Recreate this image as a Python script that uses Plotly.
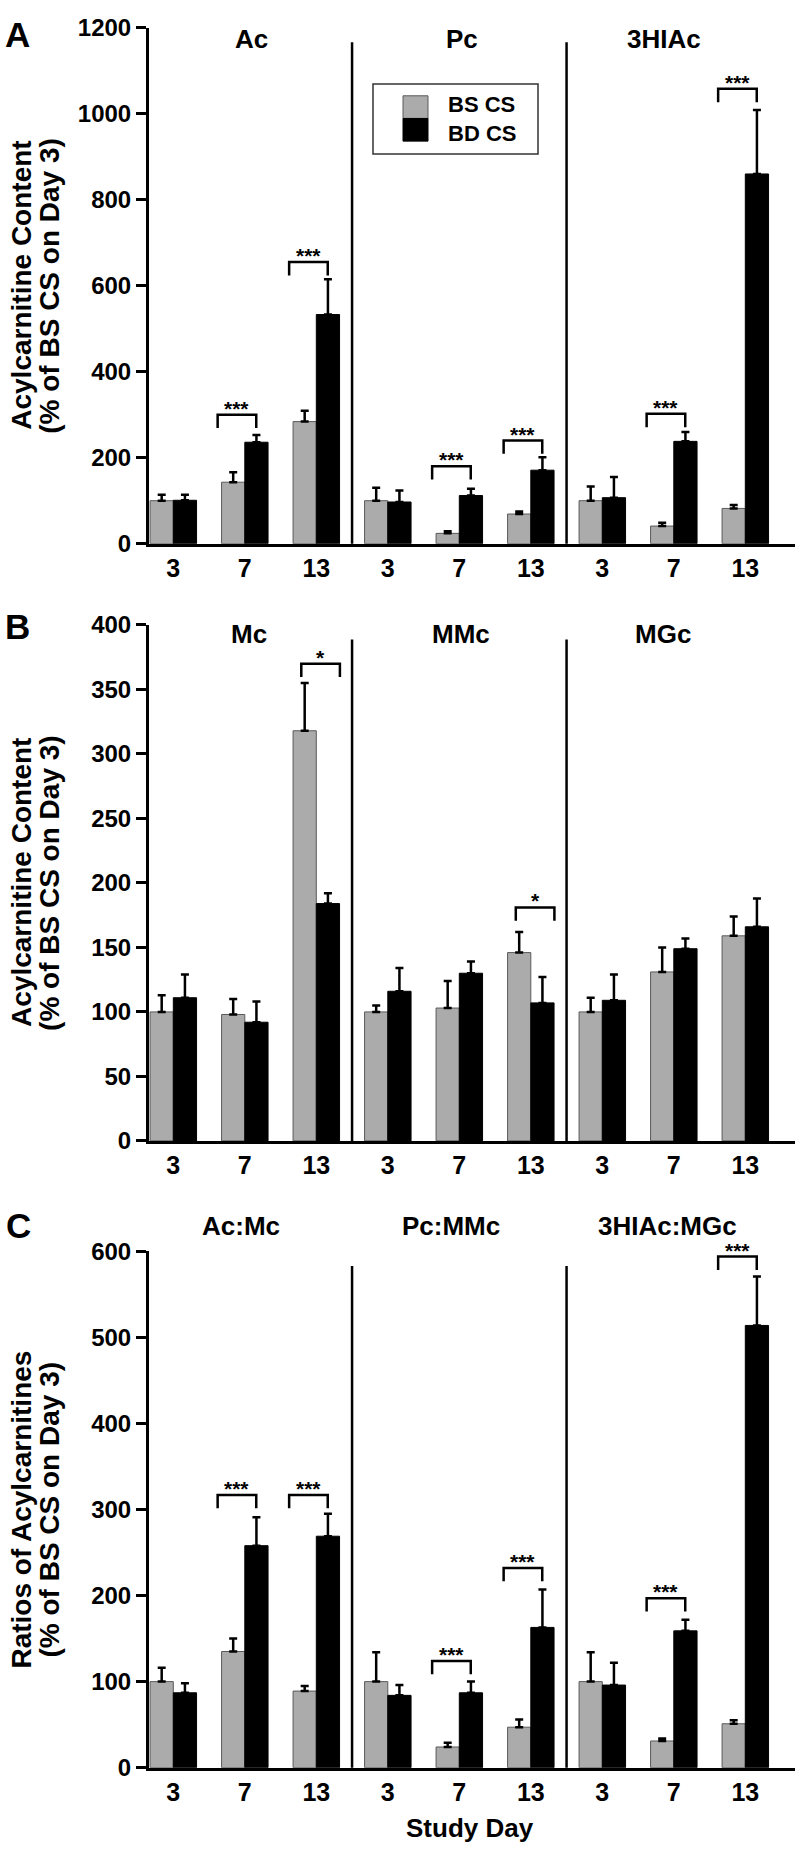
import plotly.graph_objects as go

W, H = 797, 1858

# ---------------- data ----------------
days = ["3", "7", "13"]
series_names = ["BS CS", "BD CS"]
panel_letters = ["A", "B", "C"]
group_names = [["Ac", "Pc", "3HIAc"], ["Mc", "MMc", "MGc"], ["Ac:Mc", "Pc:MMc", "3HIAc:MGc"]]
y_title_line1 = ["Acylcarnitine Content", "Acylcarnitine Content", "Ratios of Acylcarnitines"]
y_title_line2 = ["(% of BS CS on Day 3)", "(% of BS CS on Day 3)", "(% of BS CS on Day 3)"]
y_max = [1200, 400, 600]
y_dtick = [200, 50, 100]
x_title = "Study Day"

# Panel A
ac_bs = [100, 143, 284];  ac_bs_err = [14, 23, 25]
ac_bd = [101, 236, 533];  ac_bd_err = [13, 17, 82]
pc_bs = [100, 24, 69];    pc_bs_err = [30, 5, 6]
pc_bd = [97, 112, 171];   pc_bd_err = [27, 16, 30]
hi_bs = [100, 41, 82];    hi_bs_err = [33, 8, 8]
hi_bd = [107, 238, 860];  hi_bd_err = [48, 22, 149]
# Panel B
mc_bs = [100, 98, 318];   mc_bs_err = [13, 12, 37]
mc_bd = [111, 92, 184];   mc_bd_err = [18, 16, 8]
mmc_bs = [100, 103, 146]; mmc_bs_err = [5, 21, 16]
mmc_bd = [116, 130, 107]; mmc_bd_err = [18, 9, 20]
mgc_bs = [100, 131, 159]; mgc_bs_err = [11, 19, 15]
mgc_bd = [109, 149, 166]; mgc_bd_err = [20, 8, 22]
# Panel C
acmc_bs = [100, 135, 89];   acmc_bs_err = [16, 15, 6]
acmc_bd = [87, 258, 269];   acmc_bd_err = [11, 33, 26]
pcmmc_bs = [100, 24, 47];   pcmmc_bs_err = [34, 5, 9]
pcmmc_bd = [84, 87, 163];   pcmmc_bd_err = [12, 13, 44]
himgc_bs = [100, 31, 51];   himgc_bs_err = [34, 3, 4]
himgc_bd = [96, 159, 514];  himgc_bd_err = [26, 13, 57]

# significance brackets: (group index 0..8, bracket top value, label)
sig_A = [(1, 300, "***"), (2, 655, "***"), (4, 180, "***"), (5, 240, "***"), (7, 302, "***"), (8, 1058, "***")]
sig_B = [(2, 370, "*"), (5, 181, "*")]
sig_C = [(1, 317, "***"), (2, 317, "***"), (4, 124, "***"), (5, 232, "***"), (7, 197, "***"), (8, 594, "***")]

panels = [
    dict(bs=ac_bs + pc_bs + hi_bs, bs_err=ac_bs_err + pc_bs_err + hi_bs_err,
         bd=ac_bd + pc_bd + hi_bd, bd_err=ac_bd_err + pc_bd_err + hi_bd_err, sig=sig_A),
    dict(bs=mc_bs + mmc_bs + mgc_bs, bs_err=mc_bs_err + mmc_bs_err + mgc_bs_err,
         bd=mc_bd + mmc_bd + mgc_bd, bd_err=mc_bd_err + mmc_bd_err + mgc_bd_err, sig=sig_B),
    dict(bs=acmc_bs + pcmmc_bs + himgc_bs, bs_err=acmc_bs_err + pcmmc_bs_err + himgc_bs_err,
         bd=acmc_bd + pcmmc_bd + himgc_bd, bd_err=acmc_bd_err + pcmmc_bd_err + himgc_bd_err, sig=sig_C),
]

# ---------------- layout geometry (pixels) ----------------
plot_left, plot_right = 149, 795
panel_px = [(14, 537.5), (620, 1143.5), (1255.7, 1779.5)]
x_range = [-0.34, 8.695]
bracket_offsets = [(-0.38, 0.16), (-0.21, 0.33), (-0.38, 0.16)]
title_x = [[1.1, 4.04, 6.86], [1.06, 4.02, 6.85], [0.95, 3.88, 6.91]]
title_y_px = [25, 629, 1230]
letter_pos = [(17, 21), (17, 622), (18, 1229)]

FONT = "Liberation Sans, Arial, Helvetica, sans-serif"
GRAY = "#ababab"

def px(x):
    return x / W

def py(y):
    return 1 - y / H

fig = go.Figure()
shapes = []
annotations = []

cats = list(range(9))
tick_text = days * 3

for i, p in enumerate(panels):
    n = "" if i == 0 else str(i + 1)
    xa, ya = "x" + n, "y" + n
    top, bot = panel_px[i]
    fig.add_trace(go.Bar(
        x=cats, y=p["bs"], name=series_names[0], xaxis=xa, yaxis=ya,
        marker=dict(color=GRAY, line=dict(color="#5a5a5a", width=1)),
        error_y=dict(type="data", symmetric=False, array=p["bs_err"], arrayminus=[0] * 9,
                     color="black", thickness=2.5, width=4),
        showlegend=False, offsetgroup="bs"))
    fig.add_trace(go.Bar(
        x=cats, y=p["bd"], name=series_names[1], xaxis=xa, yaxis=ya,
        marker=dict(color="black", line=dict(color="black", width=1)),
        error_y=dict(type="data", symmetric=False, array=p["bd_err"], arrayminus=[0] * 9,
                     color="black", thickness=2.5, width=4),
        showlegend=False, offsetgroup="bd"))

    fig.layout["xaxis" + n] = dict(
        domain=[px(plot_left), px(plot_right)], range=x_range, anchor=ya,
        tickmode="array", tickvals=cats, ticktext=tick_text, ticks="",
        showline=True, linecolor="black", linewidth=3, showgrid=False, zeroline=False,
        tickfont=dict(family=FONT, size=25, color="black", weight="bold"))
    fig.layout["yaxis" + n] = dict(
        domain=[py(bot), py(top)], range=[0, y_max[i]], anchor=xa,
        tickmode="linear", tick0=0, dtick=y_dtick[i], ticks="outside", ticklen=10,
        tickwidth=3, tickcolor="black",
        showline=True, linecolor="black", linewidth=3, showgrid=False, zeroline=False,
        tickfont=dict(family=FONT, size=24, color="black", weight="bold"))

    # separators between compound groups
    for sx in (2.5, 5.5):
        shapes.append(dict(type="line", xref=xa, yref=ya + " domain", x0=sx, x1=sx, y0=0, y1=0.972,
                           line=dict(color="black", width=2.5)))

    # significance brackets
    leg = 13.5 * y_max[i] / (bot - top)
    o0, o1 = bracket_offsets[i]
    for g, yv, lab in p["sig"]:
        x0, x1 = g + o0, g + o1
        shapes.append(dict(type="path", xref=xa, yref=ya,
                           path=f"M {x0},{yv - leg} L {x0},{yv} L {x1},{yv} L {x1},{yv - leg}",
                           line=dict(color="black", width=2.5)))
        annotations.append(dict(x=(x0 + x1) / 2, y=yv, xref=xa, yref=ya, text=lab, showarrow=False,
                                yanchor="bottom", yshift=-7,
                                font=dict(family=FONT, size=21, color="black", weight="bold")))

    # compound titles
    for k in range(3):
        annotations.append(dict(x=title_x[i][k], y=py(title_y_px[i]), xref=xa, yref="paper",
                                text=group_names[i][k], showarrow=False, yanchor="middle",
                                font=dict(family=FONT, size=26, color="black", weight="bold")))

    # y titles (two rotated lines)
    yc = py((top + bot) / 2)
    annotations.append(dict(x=px(22), y=yc, xref="paper", yref="paper", text=y_title_line1[i],
                            textangle=-90, showarrow=False, xanchor="center", yanchor="middle",
                            font=dict(family=FONT, size=28, color="black", weight="bold")))
    annotations.append(dict(x=px(50), y=yc, xref="paper", yref="paper", text=y_title_line2[i],
                            textangle=-90, showarrow=False, xanchor="center", yanchor="middle",
                            font=dict(family=FONT, size=28, color="black", weight="bold")))

    # panel letters
    lx, ly = letter_pos[i]
    annotations.append(dict(x=px(lx), y=py(ly), xref="paper", yref="paper", text=panel_letters[i],
                            showarrow=False, xanchor="center", yanchor="middle",
                            font=dict(family=FONT, size=35, color="black", weight="bold")))

# x-axis title
annotations.append(dict(x=px(470), y=py(1841), xref="paper", yref="paper", text=x_title,
                        showarrow=False, xanchor="center", yanchor="middle",
                        font=dict(family=FONT, size=26, color="black", weight="bold")))

# legend (drawn box)
shapes.append(dict(type="rect", xref="paper", yref="paper", x0=px(373), x1=px(538), y0=py(142), y1=py(71),
                   line=dict(color="#333333", width=1.5), fillcolor="white"))
shapes.append(dict(type="rect", xref="paper", yref="paper", x0=px(403), x1=px(428), y0=py(106), y1=py(83),
                   line=dict(color="#5a5a5a", width=1), fillcolor=GRAY))
shapes.append(dict(type="rect", xref="paper", yref="paper", x0=px(403), x1=px(428), y0=py(129), y1=py(106),
                   line=dict(color="black", width=1), fillcolor="black"))
annotations.append(dict(x=px(446), y=py(106.5), xref="paper", yref="paper",
                        text="<br>".join(series_names), showarrow=False, align="left",
                        xanchor="left", yanchor="middle",
                        font=dict(family=FONT, size=22, color="black", weight="bold")))

fig.update_layout(
    width=W, height=H, margin=dict(l=0, r=0, t=0, b=0),
    paper_bgcolor="white", plot_bgcolor="white",
    barmode="group", bargap=0.35, bargroupgap=0,
    shapes=shapes, annotations=annotations, showlegend=False,
)

fig.write_html("out.html", config={"displayModeBar": False},
               post_script="document.body.style.margin='0px';")
